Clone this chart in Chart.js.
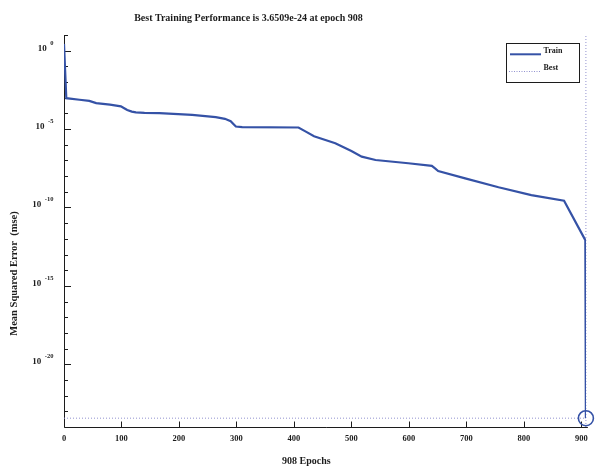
<!DOCTYPE html>
<html>
<head>
<meta charset="utf-8">
<script src="https://cdn.jsdelivr.net/npm/chart.js@4.4.1/dist/chart.umd.min.js"></script>
<style>
  html, body { margin: 0; padding: 0; background: #ffffff; }
  #wrap { width: 595px; height: 471px; }
</style>
</head>
<body>
<div id="wrap"><canvas id="perf" width="595" height="471"></canvas></div>
<script>
// Training record: epoch and mean squared error
const epochs = [0, 4, 27, 44, 56, 80, 99, 104, 110, 118, 125, 140, 166, 223, 264, 280, 290, 296, 299, 310,
                408, 420, 435, 472, 500, 518, 542, 599, 640, 645, 651, 698, 756, 813, 870, 907, 908];
const trainMse = [2.7, 9.3e-4, 7.4e-4, 6.3e-4, 4.5e-4, 3.6e-4, 2.8e-4, 2.2e-4, 1.65e-4, 1.3e-4, 1.15e-4, 1.08e-4,
                  1.05e-4, 8.1e-5, 5.8e-5, 4.5e-5, 3.2e-5, 1.9e-5, 1.45e-5, 1.35e-5, 1.26e-5, 7.1e-6, 3.5e-6,
                  1.26e-6, 4.0e-7, 1.74e-7, 1.07e-7, 6.6e-8, 4.5e-8, 3.2e-8, 2.1e-8, 7.2e-9, 1.95e-9, 6.2e-10,
                  2.7e-10, 8.3e-13, 3.6509e-24];
const bestEpoch = 908;
const bestPerf = 3.6509e-24;

// Axis ranges and ticks
const xRange = [0, 908];
const yRange = [1e-24, 10];
const xTicks = [0, 100, 200, 300, 400, 500, 600, 700, 800, 900];
const yTickExponents = [0, -5, -10, -15, -20];

const titleText = 'Best Training Performance is 3.6509e-24 at epoch 908';
const xTitle = '908 Epochs';
const yTitle = 'Mean Squared Error  (mse)';
const legendLabels = ['Train', 'Best'];

const BLUE = '#3552a6';
const DOTS = 'rgba(140,140,205,0.95)';
const INK = '#1c1c1c';
const SERIF = '"Liberation Serif", "Times New Roman", serif';

const trainPoints = epochs.map((e, i) => ({ x: e, y: trainMse[i] }));

// Axes with inward ticks and 10^n labels
const axesPlugin = {
  id: 'axesPlugin',
  beforeDatasetsDraw(chart) {
    const { ctx, chartArea: a, scales } = chart;
    const xs = scales.x, ys = scales.y;
    ctx.save();
    ctx.strokeStyle = INK;
    ctx.lineWidth = 1;
    const L = Math.round(a.left) + 0.5;
    const B = Math.round(a.bottom) + 0.5;
    ctx.beginPath();
    ctx.moveTo(L, a.top);
    ctx.lineTo(L, B);
    ctx.lineTo(a.right + 2, B);
    ctx.stroke();

    // y ticks: every decade, longer at labelled decades
    const lo = Math.round(Math.log10(yRange[0]));
    const hi = Math.round(Math.log10(yRange[1]));
    ctx.beginPath();
    for (let e = lo + 1; e <= hi; e++) {
      const py = Math.round(ys.getPixelForValue(Math.pow(10, e))) + 0.5;
      const len = yTickExponents.includes(e) ? 6.5 : 3.5;
      ctx.moveTo(L, py);
      ctx.lineTo(L + len, py);
    }
    // x ticks
    xTicks.forEach(v => {
      const px = Math.round(xs.getPixelForValue(v)) + 0.5;
      ctx.moveTo(px, B);
      ctx.lineTo(px, B - 6);
    });
    ctx.stroke();

    ctx.fillStyle = INK;
    // x tick labels
    ctx.font = 'bold 8.5px ' + SERIF;
    ctx.textAlign = 'center';
    ctx.textBaseline = 'alphabetic';
    xTicks.forEach(v => {
      ctx.fillText(String(v), xs.getPixelForValue(v), 440.5);
    });

    // y tick labels: "10" with superscript exponent
    yTickExponents.forEach(e => {
      const py = ys.getPixelForValue(Math.pow(10, e));
      const expText = String(e);
      ctx.font = 'bold 6.5px ' + SERIF;
      const ew = ctx.measureText(expText).width;
      const expLeft = 53.5 - ew;
      ctx.textAlign = 'left';
      ctx.fillText(expText, expLeft, py - 6);
      ctx.font = 'bold 9px ' + SERIF;
      ctx.textAlign = 'right';
      ctx.fillText('10', expLeft - 3.5, py);
    });
    ctx.restore();
  }
};

// Title, axis titles and legend box
const annotatePlugin = {
  id: 'annotatePlugin',
  afterDraw(chart) {
    const { ctx } = chart;
    ctx.save();
    ctx.fillStyle = INK;
    ctx.textBaseline = 'alphabetic';
    ctx.textAlign = 'center';
    ctx.font = 'bold 10px ' + SERIF;
    ctx.fillText(titleText, 248.5, 21);
    ctx.fillText(xTitle, 306.3, 464);

    ctx.save();
    ctx.translate(14, 273.5);
    ctx.rotate(-Math.PI / 2);
    ctx.font = 'bold 10.5px ' + SERIF;
    ctx.textBaseline = 'middle';
    ctx.fillText(yTitle, 0, 0);
    ctx.restore();

    // legend
    ctx.fillStyle = '#ffffff';
    ctx.fillRect(506.5, 43.5, 73, 39);
    ctx.strokeStyle = INK;
    ctx.lineWidth = 1;
    ctx.strokeRect(506.5, 43.5, 73, 39);

    ctx.strokeStyle = BLUE;
    ctx.lineWidth = 2;
    ctx.beginPath();
    ctx.moveTo(510, 54.3);
    ctx.lineTo(541, 54.3);
    ctx.stroke();

    ctx.strokeStyle = DOTS;
    ctx.lineWidth = 1;
    ctx.setLineDash([1, 1.5]);
    ctx.beginPath();
    ctx.moveTo(509, 71.5);
    ctx.lineTo(541, 71.5);
    ctx.stroke();
    ctx.setLineDash([]);

    ctx.fillStyle = INK;
    ctx.font = 'bold 8px ' + SERIF;
    ctx.textAlign = 'left';
    ctx.fillText(legendLabels[0], 543.5, 53);
    ctx.fillText(legendLabels[1], 543.5, 70);
    ctx.restore();
  }
};

new Chart(document.getElementById('perf'), {
  type: 'line',
  data: {
    datasets: [
      {
        label: 'Train',
        data: trainPoints,
        borderColor: BLUE,
        borderWidth: 2.2,
        pointRadius: 0,
        tension: 0,
        fill: false,
        order: 1
      },
      {
        label: 'Best',
        data: [{ x: xRange[0], y: bestPerf }, { x: xRange[1], y: bestPerf }],
        borderColor: DOTS,
        borderWidth: 1,
        borderDash: [1, 2],
        pointRadius: 0,
        fill: false,
        order: 3
      },
      {
        label: 'Best epoch',
        data: [{ x: bestEpoch, y: yRange[0] }, { x: bestEpoch, y: yRange[1] }],
        borderColor: DOTS,
        borderWidth: 1,
        borderDash: [1, 2],
        pointRadius: 0,
        fill: false,
        clip: false,
        order: 3
      },
      {
        label: 'Best point',
        type: 'scatter',
        data: [{ x: bestEpoch, y: bestPerf }],
        pointRadius: 7.5,
        pointStyle: 'circle',
        pointBorderColor: BLUE,
        pointBackgroundColor: 'rgba(0,0,0,0)',
        pointBorderWidth: 1.6,
        showLine: false,
        clip: false,
        order: 0
      }
    ]
  },
  options: {
    responsive: false,
    animation: false,
    devicePixelRatio: 1,
    layout: { padding: { left: 64, right: 8, top: 35, bottom: 44 } },
    plugins: {
      legend: { display: false },
      title: { display: false },
      tooltip: { enabled: false }
    },
    scales: {
      x: { type: 'linear', min: xRange[0], max: xRange[1], display: false },
      y: { type: 'logarithmic', min: yRange[0], max: yRange[1], display: false }
    }
  },
  plugins: [axesPlugin, annotatePlugin]
});
</script>
</body>
</html>
